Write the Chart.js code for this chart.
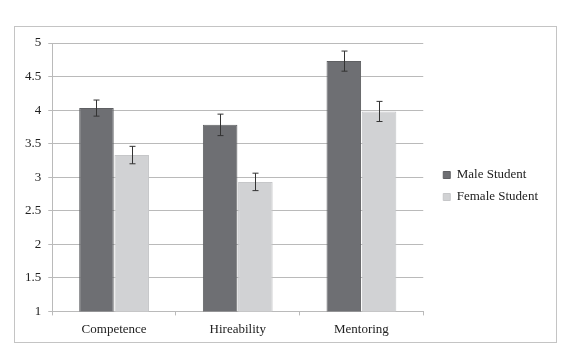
<!DOCTYPE html>
<html>
<head>
<meta charset="utf-8">
<script src="https://cdn.jsdelivr.net/npm/chart.js@4.4.1/dist/chart.umd.min.js"></script>
<style>
  body { margin: 0; background: #fff; }
  #wrap { width: 575px; height: 360px; }
</style>
</head>
<body>
<div id="wrap"><canvas id="myChart" width="575" height="360"></canvas></div>
<script>
const categories = ['Competence', 'Hireability', 'Mentoring'];
const maleValues = [4.03, 3.78, 4.73];
const femaleValues = [3.33, 2.93, 3.98];
const maleErr = [0.12, 0.16, 0.15];
const femaleErr = [0.13, 0.13, 0.15];
const yTicks = [1, 1.5, 2, 2.5, 3, 3.5, 4, 4.5, 5];

const serif = { family: 'Liberation Serif', size: 13 };

// outer frame like the spreadsheet chart border
const framePlugin = {
    id: 'frame',
    beforeDraw(chart) {
        const c = chart.ctx;
        c.save();
        c.fillStyle = '#fff';
        c.fillRect(0, 0, chart.width, chart.height);
        c.strokeStyle = '#c4c4c4';
        c.lineWidth = 1;
        c.strokeRect(14.5, 26.5, 542, 316);
        c.restore();
    }
};

// nudge the legend block away from the plot, a bit higher
const legendShift = {
    id: 'legendShift',
    afterLayout(chart) {
        const lg = chart.legend;
        if (!lg) return;
        lg.left += 11; lg.right += 11;
        lg.top -= 7; lg.bottom -= 7;
    }
};

// error bars drawn from the value scale
const errorBarPlugin = {
    id: 'errorBars',
    afterDatasetsDraw(chart) {
        const c = chart.ctx;
        const y = chart.scales.y;
        chart.data.datasets.forEach((ds, di) => {
            const meta = chart.getDatasetMeta(di);
            meta.data.forEach((bar, i) => {
                const v = ds.data[i], e = ds.errors[i];
                const top = y.getPixelForValue(v + e);
                const bot = y.getPixelForValue(v - e);
                const x = Math.round(bar.x) + 0.5;
                c.save();
                c.strokeStyle = '#333';
                c.lineWidth = 1;
                c.beginPath();
                c.moveTo(x, top); c.lineTo(x, bot);
                c.moveTo(x - 3, top); c.lineTo(x + 3, top);
                c.moveTo(x - 3, bot); c.lineTo(x + 3, bot);
                c.stroke();
                c.restore();
            });
        });
    }
};

const ctx = document.getElementById('myChart').getContext('2d');
const myChart = new Chart(ctx, {
    type: 'bar',
    data: {
        labels: categories,
        datasets: [{
            label: 'Male Student',
            data: maleValues,
            errors: maleErr,
            backgroundColor: '#6e6f73',
            borderColor: '#5f6063',
            borderWidth: 1
        }, {
            label: 'Female Student',
            data: femaleValues,
            errors: femaleErr,
            backgroundColor: '#d1d2d4',
            borderColor: '#c6c7c9',
            borderWidth: 1
        }]
    },
    plugins: [framePlugin, legendShift, errorBarPlugin],
    options: {
        responsive: false,
        animation: false,
        categoryPercentage: 0.57,
        barPercentage: 0.98,
        layout: {
            padding: { left: 18, right: 38, top: 43, bottom: 17 }
        },
        plugins: {
            tooltip: { enabled: false },
            legend: {
                position: 'right',
                labels: {
                    boxWidth: 7,
                    boxHeight: 7,
                    padding: 9,
                    color: '#222',
                    font: serif
                }
            }
        },
        scales: {
            y: {
                min: 1,
                max: 5,
                afterBuildTicks(axis) {
                    axis.ticks = yTicks.map(v => ({ value: v }));
                },
                ticks: {
                    color: '#222',
                    padding: 7,
                    font: serif,
                    callback: v => String(v)
                },
                grid: { color: '#bababa', tickLength: 4 },
                border: { color: '#bababa' }
            },
            x: {
                ticks: {
                    color: '#222',
                    padding: 6,
                    font: serif
                },
                grid: {
                    offset: true,
                    drawOnChartArea: false,
                    tickLength: 4,
                    color: '#bababa'
                },
                border: { color: '#bababa' }
            }
        }
    }
});
</script>
</body>
</html>
